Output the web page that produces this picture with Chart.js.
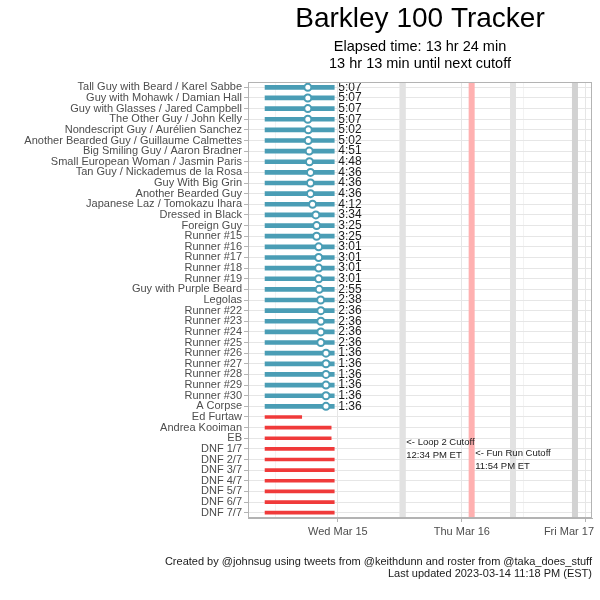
<!DOCTYPE html>
<html>
<head>
<meta charset="utf-8">
<script src="https://cdn.jsdelivr.net/npm/chart.js@4"></script>
<style>
  body { margin: 0; background: #fff; }
  canvas { display: block; }
</style>
</head>
<body>
<canvas id="tracker" width="600" height="600"></canvas>
<script>
// hours counted from Tue Mar 14 00:00 ET
const raceStart = 9.9;     // 9:54 AM
const lastUpdate = 23.3;   // 11:18 PM

const runnerNames = [
  'Tall Guy with Beard / Karel Sabbe', 'Guy with Mohawk / Damian Hall', 'Guy with Glasses / Jared Campbell',
  'The Other Guy / John Kelly', 'Nondescript Guy / Aurélien Sanchez', 'Another Bearded Guy / Guillaume Calmettes',
  'Big Smiling Guy / Aaron Bradner', 'Small European Woman / Jasmin Paris', 'Tan Guy / Nickademus de la Rosa',
  'Guy With Big Grin', 'Another Bearded Guy', 'Japanese Laz / Tomokazu Ihara', 'Dressed in Black',
  'Foreign Guy', 'Runner #15', 'Runner #16', 'Runner #17', 'Runner #18', 'Runner #19',
  'Guy with Purple Beard', 'Legolas', 'Runner #22', 'Runner #23', 'Runner #24', 'Runner #25',
  'Runner #26', 'Runner #27', 'Runner #28', 'Runner #29', 'Runner #30', 'A Corpse'
];
// time since last sighting (h:mm)
const sinceLastSeen = [
  '5:07', '5:07', '5:07', '5:07', '5:02', '5:02', '4:51', '4:48', '4:36', '4:36', '4:36', '4:12',
  '3:34', '3:25', '3:25', '3:01', '3:01', '3:01', '3:01', '2:55', '2:38', '2:36', '2:36', '2:36',
  '2:36', '1:36', '1:36', '1:36', '1:36', '1:36', '1:36'
];

const droppedNames = ['Ed Furtaw', 'Andrea Kooiman', 'EB', 'DNF 1/7', 'DNF 2/7', 'DNF 3/7',
  'DNF 4/7', 'DNF 5/7', 'DNF 6/7', 'DNF 7/7'];
const droppedEnd = [17.0, 22.7, 22.7, 23.3, 23.3, 23.3, 23.3, 23.3, 23.3, 23.3];

// cutoffs: loop 2 (fun run pace), fun run, loop 4, 60 hours
const cutoffHours = [36.57, 49.9, 57.9, 69.9];
const cutoffNotes = [['<- Loop 2 Cutoff', '12:34 PM ET'], ['<- Fun Run Cutoff', '11:54 PM ET']];
const noteRows = ['DNF 1/7', 'DNF 2/7'];

const dayTicks = [24, 48, 72];
const dayLabels = ['Wed Mar 15', 'Thu Mar 16', 'Fri Mar 17'];
const gridHours = [12, 24, 36, 48, 60, 72];

const allRows = runnerNames.concat(droppedNames);
const blue = '#4a9db5';
const red = '#f03a3a';
const font = "'Liberation Sans', Arial, sans-serif";
Chart.defaults.font.family = font;

function toHours(s) {
  const p = s.split(':');
  return +p[0] + (+p[1]) / 60;
}

const activeBars = allRows.map((r, i) => i < runnerNames.length ? [raceStart, lastUpdate] : null);
const droppedBars = allRows.map((r, i) => i < runnerNames.length ? null : [raceStart, droppedEnd[i - runnerNames.length]]);
const lastSeen = runnerNames.map((r, i) => ({ x: lastUpdate - toHours(sinceLastSeen[i]), y: r }));

const extras = {
  id: 'extras',
  beforeDatasetsDraw(chart) {
    const { ctx, chartArea: a, scales: { x } } = chart;
    const bandColors = ['#e2e2e2', '#ffb0b0', '#e2e2e2', '#d2d2d2'];
    ctx.save();
    cutoffHours.forEach((h, i) => {
      ctx.fillStyle = bandColors[i];
      ctx.fillRect(x.getPixelForValue(h) - 3, a.top, 6, a.bottom - a.top);
    });
    ctx.restore();
  },
  afterDatasetsDraw(chart) {
    const { ctx, chartArea: a, scales: { x, y } } = chart;
    ctx.save();
    // value labels
    ctx.fillStyle = '#1a1a1a';
    ctx.font = '12px ' + font;
    ctx.textBaseline = 'middle';
    ctx.textAlign = 'left';
    const xe = x.getPixelForValue(lastUpdate) + 4;
    sinceLastSeen.forEach((s, i) => ctx.fillText(s, xe, y.getPixelForValue(i)));
    // cutoff notes
    ctx.font = '9.5px ' + font;
    cutoffNotes.forEach((lines, i) => {
      const px = x.getPixelForValue(cutoffHours[i]) + 3.5;
      const py = y.getPixelForValue(allRows.indexOf(noteRows[i]));
      ctx.fillText(lines[0], px, py - 6.5);
      ctx.fillText(lines[1], px, py + 6.5);
    });
    // last day label sits inside the canvas edge
    ctx.fillStyle = '#4d4d4d';
    ctx.font = '11px ' + font;
    ctx.textAlign = 'right';
    ctx.fillText(dayLabels[2], 594, x.top + 4 + 3 + 6.6);
    // panel border
    ctx.strokeStyle = '#b3b3b3';
    ctx.lineWidth = 1;
    ctx.strokeRect(a.left + 0.5, a.top + 0.5, a.right - a.left - 1, a.bottom - a.top - 1);
    // caption
    ctx.fillStyle = '#1a1a1a';
    ctx.font = '11px ' + font;
    ctx.fillText('Created by @johnsug using tweets from @keithdunn and roster from @taka_does_stuff', a.right, 562);
    ctx.fillText('Last updated 2023-03-14 11:18 PM (EST)', a.right, 574);
    ctx.restore();
  }
};

new Chart(document.getElementById('tracker'), {
  type: 'bar',
  data: {
    labels: allRows,
    datasets: [
      {
        type: 'scatter',
        data: lastSeen,
        pointRadius: 3.5,
        pointBorderWidth: 2,
        pointBorderColor: blue,
        pointBackgroundColor: '#fff',
        order: 0
      },
      {
        data: activeBars,
        backgroundColor: blue,
        barThickness: 4,
        grouped: false,
        order: 1
      },
      {
        data: droppedBars,
        backgroundColor: red,
        barThickness: 3,
        grouped: false,
        order: 1
      }
    ]
  },
  options: {
    responsive: false,
    animation: false,
    indexAxis: 'y',
    layout: { autoPadding: false, padding: { left: 0, right: 8, top: 0, bottom: 58 } },
    plugins: {
      legend: { display: false },
      tooltip: { enabled: false },
      title: {
        display: true,
        fullSize: false,
        text: 'Barkley 100 Tracker',
        color: '#000',
        font: { size: 28, weight: 'normal', lineHeight: 1.15 },
        padding: { top: 3, bottom: 0 }
      },
      subtitle: {
        display: true,
        fullSize: false,
        text: ['Elapsed time: 13 hr 24 min', '13 hr 13 min until next cutoff'],
        color: '#000',
        font: { size: 14.5, lineHeight: 1.2 },
        padding: { top: 2.8, bottom: 9.2 }
      }
    },
    scales: {
      x: {
        type: 'linear',
        min: 6.6,
        max: 73.2,
        afterBuildTicks: s => { s.ticks = gridHours.map(v => ({ value: v })); },
        afterFit: s => { s.height = 24; s.paddingLeft = 0; s.paddingRight = 0; },
        border: { color: '#b3b3b3' },
        grid: {
          color: c => dayTicks.includes(c.tick.value) ? '#e6e6e6' : '#f3f3f3',
          tickColor: c => dayTicks.includes(c.tick.value) ? '#b3b3b3' : 'rgba(0,0,0,0)',
          tickLength: 4
        },
        ticks: {
          color: '#4d4d4d',
          font: { size: 11 },
          padding: 3,
          maxRotation: 0,
          autoSkip: false,
          // the Fri label is drawn by the plugin, right-aligned
          callback: v => { const k = dayTicks.indexOf(v); return k < 0 || k === 2 ? '' : dayLabels[k]; }
        }
      },
      y: {
        type: 'category',
        offset: true,
        afterFit: s => { s.width = 248; s.paddingTop = 0; s.paddingBottom = 0; },
        border: { color: '#b3b3b3' },
        grid: { offset: false, color: '#e6e6e6', tickColor: '#b3b3b3', tickLength: 4 },
        ticks: { color: '#4d4d4d', font: { size: 11 }, padding: 2, autoSkip: false }
      }
    }
  },
  plugins: [extras]
});
</script>
</body>
</html>
